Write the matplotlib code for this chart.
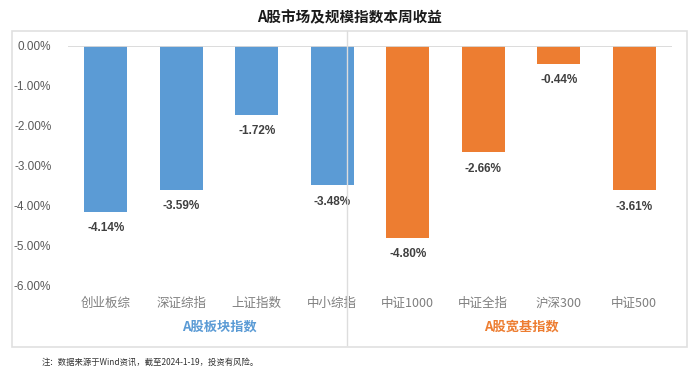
import matplotlib
matplotlib.use("Agg")
import matplotlib.pyplot as plt
from matplotlib.patches import Rectangle
from matplotlib.lines import Line2D

plt.rcParams['font.family'] = ['Noto Sans CJK SC', 'DejaVu Sans']

categories = ['创业板综', '深证综指', '上证指数', '中小综指', '中证1000', '中证全指', '沪深300', '中证500']
values = [-4.14, -3.59, -1.72, -3.48, -4.80, -2.66, -0.44, -3.61]
groups = ['A股板块指数', 'A股宽基指数']
group_sizes = [4, 4]
yticks = [0, -1, -2, -3, -4, -5, -6]

blue = '#5B9BD5'
orange = '#ED7D31'
group_colors = [blue, orange]

W, H = 699, 376
fig = plt.figure(figsize=(W / 100, H / 100), dpi=100)

def fx(px):
    return px / W

def fy(py):
    return 1 - py / H

# outer frame
fig.add_artist(Rectangle((fx(11.5), fy(346.5)), fx(687) - fx(11.5), fy(30.5) - fy(346.5),
                         transform=fig.transFigure, fill=False, edgecolor='#E0E0E0', lw=1.2))

ax = fig.add_axes([fx(68), fy(286), fx(672) - fx(68), fy(46) - fy(286)])
colors = []
for c, n in zip(group_colors, group_sizes):
    colors += [c] * n
x = list(range(len(categories)))
bars = ax.bar(x, values, width=0.57, color=colors, zorder=3)
ax.set_xlim(-0.5, len(categories) - 0.5)
ax.set_ylim(-6, 0)
ax.axhline(0, color='#D9D9D9', lw=1.3, zorder=4)
for s in ax.spines.values():
    s.set_visible(False)
ax.set_yticks(yticks)
ax.set_yticklabels([f'{v:.2f}%' for v in yticks], fontsize=8.5, color='#595959',
                   family=['Liberation Sans', 'DejaVu Sans'])
ax.tick_params(axis='y', length=0, pad=12)
ax.set_xticks(x)
ax.set_xticklabels(categories, fontsize=9, color='#7F7F7F')
ax.tick_params(axis='x', length=0, pad=8)

for xi, v in zip(x, values):
    ax.annotate(f'{v:.2f}%', (xi, v), xytext=(0, -7.5), textcoords='offset points',
                ha='center', va='top', fontsize=8.5, fontweight='bold', color='#404040',
                family=['Liberation Sans', 'DejaVu Sans'])

# group labels
start = 0
for g, n, c in zip(groups, group_sizes, group_colors):
    center = start + (n - 1) / 2
    ax.annotate(g, (center, 0), xycoords=('data', 'figure fraction'),
                xytext=(0, fy(326.5) * H * 72 / 100), textcoords='offset points',
                ha='center', va='center', fontsize=9.5, fontweight='bold', color=c)
    start += n

# divider line
fig.add_artist(Line2D([fx(347.3), fx(347.3)], [fy(345), fy(31)], transform=fig.transFigure,
                      color='#DDDDDD', lw=1))

fig.text(0.5, fy(17.5), 'A股市场及规模指数本周收益', ha='center', va='center',
         fontsize=10.5, fontweight='bold', color='#1a1a1a')
fig.text(fx(42), fy(362), '注：数据来源于Wind资讯，截至2024-1-19，投资有风险。', ha='left', va='center',
         fontsize=6, color='#333333')

fig.savefig('out.png', dpi=100)
